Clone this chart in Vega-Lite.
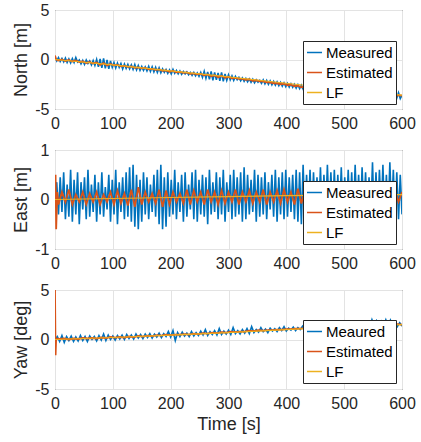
{
"$schema":"https://vega.github.io/schema/vega-lite/v6.json",
"autosize":{"type":"pad"},
"padding":{"left":12,"top":1,"right":2,"bottom":2},
"background":"white",
"spacing":41,
"bounds":"flush",
"resolve":{"scale":{"color":"independent"}},
"config":{
 "view":{"stroke":"#262626","strokeWidth":1},
 "axis":{"labelFont":"Liberation Sans","labelFontSize":16,"labelColor":"#262626","titleFont":"Liberation Sans","titleFontSize":18,"titleFontWeight":"normal","titleColor":"#262626","grid":true,"gridColor":"#E3E3E3","gridWidth":1,"domain":false,"ticks":false,"labelPadding":6,"labelFlush":false,"labelOverlap":false,"titlePadding":4},
 "legend":{"title":null,"orient":"none","symbolType":"stroke","symbolSize":225,"symbolStrokeWidth":1.5,"labelFont":"Liberation Sans","labelFontSize":15,"labelColor":"#000000","fillColor":"white","strokeColor":"#262626","padding":3,"rowPadding":3,"labelOffset":3}
},
"datasets":{
"nm":[{"t":0,"v":0.25},{"t":3,"v":-0.15},{"t":6,"v":0.2},{"t":9,"v":-0.2},{"t":12,"v":0.1},{"t":15,"v":-0.25},{"t":18,"v":0.15},{"t":21,"v":-0.3},{"t":24,"v":0.05},{"t":27,"v":-0.35},{"t":30,"v":0.1},{"t":33,"v":-0.3},{"t":36,"v":0.2},{"t":39,"v":-0.25},{"t":42,"v":-0.05},{"t":45,"v":-0.45},{"t":48,"v":-0.1},{"t":51,"v":-0.5},{"t":54,"v":-0.05},{"t":57,"v":-0.4},{"t":60,"v":-0.15},{"t":63,"v":-0.55},{"t":66,"v":-0.1},{"t":69,"v":-0.6},{"t":72,"v":0.0},{"t":75,"v":-0.75},{"t":78,"v":0.05},{"t":81,"v":-0.85},{"t":84,"v":0.1},{"t":87,"v":-0.9},{"t":90,"v":-0.05},{"t":93,"v":-0.95},{"t":96,"v":-0.15},{"t":99,"v":-0.8},{"t":102,"v":-0.3},{"t":105,"v":-0.85},{"t":108,"v":-0.35},{"t":111,"v":-0.8},{"t":114,"v":-0.4},{"t":117,"v":-0.95},{"t":120,"v":-0.45},{"t":123,"v":-0.9},{"t":126,"v":-0.5},{"t":129,"v":-0.95},{"t":132,"v":-0.55},{"t":135,"v":-1.0},{"t":138,"v":-0.5},{"t":141,"v":-1.05},{"t":144,"v":-0.6},{"t":147,"v":-1.1},{"t":150,"v":-0.7},{"t":153,"v":-1.1},{"t":156,"v":-0.75},{"t":159,"v":-1.15},{"t":162,"v":-0.7},{"t":165,"v":-1.2},{"t":168,"v":-0.75},{"t":171,"v":-1.25},{"t":174,"v":-0.8},{"t":177,"v":-1.3},{"t":180,"v":-0.85},{"t":183,"v":-1.35},{"t":186,"v":-0.95},{"t":189,"v":-1.3},{"t":192,"v":-1.0},{"t":195,"v":-1.4},{"t":198,"v":-1.05},{"t":201,"v":-1.45},{"t":204,"v":-1.0},{"t":207,"v":-1.4},{"t":210,"v":-1.1},{"t":213,"v":-1.45},{"t":216,"v":-1.15},{"t":219,"v":-1.5},{"t":222,"v":-1.2},{"t":225,"v":-1.45},{"t":228,"v":-1.25},{"t":231,"v":-1.55},{"t":234,"v":-1.3},{"t":237,"v":-1.6},{"t":240,"v":-1.3},{"t":243,"v":-1.65},{"t":246,"v":-1.35},{"t":249,"v":-1.7},{"t":252,"v":-1.3},{"t":255,"v":-1.8},{"t":258,"v":-1.2},{"t":261,"v":-1.9},{"t":264,"v":-1.25},{"t":267,"v":-2.0},{"t":270,"v":-1.2},{"t":273,"v":-2.1},{"t":276,"v":-1.3},{"t":279,"v":-2.05},{"t":282,"v":-1.35},{"t":285,"v":-2.15},{"t":288,"v":-1.3},{"t":291,"v":-2.2},{"t":294,"v":-1.45},{"t":297,"v":-2.1},{"t":300,"v":-1.55},{"t":303,"v":-2.05},{"t":306,"v":-1.65},{"t":309,"v":-2.1},{"t":312,"v":-1.7},{"t":315,"v":-2.05},{"t":318,"v":-1.8},{"t":321,"v":-2.15},{"t":324,"v":-1.85},{"t":327,"v":-2.2},{"t":330,"v":-1.9},{"t":333,"v":-2.25},{"t":336,"v":-1.95},{"t":339,"v":-2.3},{"t":342,"v":-2.0},{"t":345,"v":-2.35},{"t":348,"v":-2.05},{"t":351,"v":-2.3},{"t":354,"v":-2.1},{"t":357,"v":-2.4},{"t":360,"v":-2.05},{"t":363,"v":-2.45},{"t":366,"v":-2.1},{"t":369,"v":-2.5},{"t":372,"v":-2.15},{"t":375,"v":-2.55},{"t":378,"v":-2.2},{"t":381,"v":-2.6},{"t":384,"v":-2.25},{"t":387,"v":-2.65},{"t":390,"v":-2.3},{"t":393,"v":-2.7},{"t":396,"v":-2.35},{"t":399,"v":-2.75},{"t":402,"v":-2.4},{"t":405,"v":-2.8},{"t":408,"v":-2.45},{"t":411,"v":-2.8},{"t":414,"v":-2.5},{"t":417,"v":-2.9},{"t":420,"v":-2.55},{"t":423,"v":-2.95},{"t":426,"v":-2.6},{"t":429,"v":-3.0},{"t":432,"v":-2.65},{"t":435,"v":-3.05},{"t":438,"v":-2.7},{"t":441,"v":-3.1},{"t":444,"v":-2.75},{"t":447,"v":-3.1},{"t":450,"v":-2.8},{"t":453,"v":-3.15},{"t":456,"v":-2.85},{"t":459,"v":-3.2},{"t":462,"v":-2.85},{"t":465,"v":-3.25},{"t":468,"v":-2.9},{"t":471,"v":-3.3},{"t":474,"v":-2.95},{"t":477,"v":-3.3},{"t":480,"v":-3.0},{"t":483,"v":-3.35},{"t":486,"v":-3.0},{"t":489,"v":-3.4},{"t":492,"v":-3.05},{"t":495,"v":-3.4},{"t":498,"v":-3.1},{"t":501,"v":-3.45},{"t":504,"v":-3.1},{"t":507,"v":-3.5},{"t":510,"v":-3.15},{"t":513,"v":-3.5},{"t":516,"v":-3.2},{"t":519,"v":-3.55},{"t":522,"v":-3.2},{"t":525,"v":-3.6},{"t":528,"v":-3.25},{"t":531,"v":-3.6},{"t":534,"v":-3.3},{"t":537,"v":-3.65},{"t":540,"v":-3.3},{"t":543,"v":-3.7},{"t":546,"v":-3.35},{"t":549,"v":-3.7},{"t":552,"v":-3.4},{"t":555,"v":-3.75},{"t":558,"v":-3.4},{"t":561,"v":-3.8},{"t":564,"v":-3.45},{"t":567,"v":-3.8},{"t":570,"v":-3.4},{"t":573,"v":-3.85},{"t":576,"v":-3.45},{"t":579,"v":-3.8},{"t":582,"v":-3.35},{"t":585,"v":-3.85},{"t":588,"v":-3.3},{"t":591,"v":-3.9},{"t":594,"v":-3.35},{"t":597,"v":-3.95},{"t":600,"v":-3.6}],
"ne":[{"t":0,"v":0.4},{"t":2,"v":0.0},{"t":6,"v":-0.1},{"t":12,"v":0.0},{"t":18,"v":-0.15},{"t":24,"v":-0.05},{"t":30,"v":-0.2},{"t":36,"v":-0.1},{"t":42,"v":-0.25},{"t":48,"v":-0.2},{"t":54,"v":-0.35},{"t":60,"v":-0.25},{"t":66,"v":-0.4},{"t":72,"v":-0.3},{"t":78,"v":-0.55},{"t":84,"v":-0.35},{"t":90,"v":-0.6},{"t":96,"v":-0.45},{"t":102,"v":-0.6},{"t":108,"v":-0.55},{"t":114,"v":-0.7},{"t":120,"v":-0.65},{"t":126,"v":-0.75},{"t":132,"v":-0.7},{"t":138,"v":-0.85},{"t":144,"v":-0.8},{"t":150,"v":-0.9},{"t":156,"v":-0.85},{"t":162,"v":-1.0},{"t":168,"v":-0.95},{"t":174,"v":-1.05},{"t":180,"v":-1.0},{"t":186,"v":-1.15},{"t":192,"v":-1.1},{"t":198,"v":-1.25},{"t":204,"v":-1.15},{"t":210,"v":-1.3},{"t":216,"v":-1.25},{"t":222,"v":-1.35},{"t":228,"v":-1.3},{"t":234,"v":-1.45},{"t":240,"v":-1.4},{"t":246,"v":-1.5},{"t":252,"v":-1.45},{"t":258,"v":-1.6},{"t":264,"v":-1.5},{"t":270,"v":-1.7},{"t":276,"v":-1.6},{"t":282,"v":-1.8},{"t":288,"v":-1.65},{"t":294,"v":-1.85},{"t":300,"v":-1.75},{"t":306,"v":-1.9},{"t":312,"v":-1.85},{"t":318,"v":-1.95},{"t":324,"v":-1.95},{"t":330,"v":-2.05},{"t":336,"v":-2.0},{"t":342,"v":-2.15},{"t":348,"v":-2.1},{"t":354,"v":-2.2},{"t":360,"v":-2.2},{"t":366,"v":-2.3},{"t":372,"v":-2.3},{"t":378,"v":-2.4},{"t":384,"v":-2.4},{"t":390,"v":-2.5},{"t":396,"v":-2.45},{"t":402,"v":-2.6},{"t":408,"v":-2.55},{"t":414,"v":-2.7},{"t":420,"v":-2.65},{"t":426,"v":-2.8},{"t":432,"v":-2.75},{"t":438,"v":-2.9},{"t":444,"v":-2.85},{"t":450,"v":-2.95},{"t":456,"v":-2.95},{"t":462,"v":-3.05},{"t":468,"v":-3.05},{"t":474,"v":-3.15},{"t":480,"v":-3.1},{"t":486,"v":-3.2},{"t":492,"v":-3.2},{"t":498,"v":-3.3},{"t":504,"v":-3.3},{"t":510,"v":-3.35},{"t":516,"v":-3.35},{"t":522,"v":-3.4},{"t":528,"v":-3.45},{"t":534,"v":-3.5},{"t":540,"v":-3.5},{"t":546,"v":-3.55},{"t":552,"v":-3.55},{"t":558,"v":-3.6},{"t":564,"v":-3.6},{"t":570,"v":-3.6},{"t":576,"v":-3.65},{"t":582,"v":-3.6},{"t":588,"v":-3.65},{"t":594,"v":-3.6},{"t":600,"v":-3.65}],
"nl":[{"t":0,"v":0.0},{"t":100,"v":-0.55},{"t":200,"v":-1.15},{"t":300,"v":-1.75},{"t":400,"v":-2.4},{"t":500,"v":-3.05},{"t":600,"v":-3.6}],
"em":[{"t":0,"v":0.0},{"t":3,"v":0.35},{"t":6,"v":-0.3},{"t":9,"v":0.45},{"t":12,"v":-0.25},{"t":15,"v":0.55},{"t":18,"v":-0.4},{"t":21,"v":0.3},{"t":24,"v":-0.35},{"t":27,"v":0.6},{"t":30,"v":-0.45},{"t":33,"v":0.4},{"t":36,"v":-0.3},{"t":39,"v":0.55},{"t":42,"v":-0.5},{"t":45,"v":0.35},{"t":48,"v":-0.2},{"t":51,"v":0.45},{"t":54,"v":-0.4},{"t":57,"v":0.6},{"t":60,"v":-0.35},{"t":63,"v":0.3},{"t":66,"v":-0.25},{"t":69,"v":0.5},{"t":72,"v":-0.45},{"t":75,"v":0.35},{"t":78,"v":-0.3},{"t":81,"v":0.55},{"t":84,"v":-0.35},{"t":87,"v":0.25},{"t":90,"v":-0.2},{"t":93,"v":0.5},{"t":96,"v":-0.45},{"t":99,"v":0.4},{"t":102,"v":-0.3},{"t":105,"v":0.6},{"t":108,"v":-0.5},{"t":111,"v":0.35},{"t":114,"v":-0.25},{"t":117,"v":0.45},{"t":120,"v":-0.4},{"t":123,"v":0.55},{"t":126,"v":-0.35},{"t":129,"v":0.65},{"t":132,"v":-0.45},{"t":135,"v":0.7},{"t":138,"v":-0.55},{"t":141,"v":0.5},{"t":144,"v":-0.6},{"t":147,"v":0.4},{"t":150,"v":-0.45},{"t":153,"v":0.55},{"t":156,"v":-0.3},{"t":159,"v":0.45},{"t":162,"v":-0.4},{"t":165,"v":0.3},{"t":168,"v":-0.25},{"t":171,"v":0.5},{"t":174,"v":-0.35},{"t":177,"v":0.6},{"t":180,"v":-0.5},{"t":183,"v":0.7},{"t":186,"v":-0.6},{"t":189,"v":0.45},{"t":192,"v":-0.55},{"t":195,"v":0.55},{"t":198,"v":-0.35},{"t":201,"v":0.4},{"t":204,"v":-0.3},{"t":207,"v":0.6},{"t":210,"v":-0.4},{"t":213,"v":0.35},{"t":216,"v":-0.25},{"t":219,"v":0.5},{"t":222,"v":-0.45},{"t":225,"v":0.55},{"t":228,"v":-0.35},{"t":231,"v":0.3},{"t":234,"v":-0.2},{"t":237,"v":0.55},{"t":240,"v":-0.4},{"t":243,"v":0.6},{"t":246,"v":-0.45},{"t":249,"v":0.4},{"t":252,"v":-0.3},{"t":255,"v":0.5},{"t":258,"v":-0.35},{"t":261,"v":0.45},{"t":264,"v":-0.5},{"t":267,"v":0.6},{"t":270,"v":-0.3},{"t":273,"v":0.35},{"t":276,"v":-0.25},{"t":279,"v":0.55},{"t":282,"v":-0.4},{"t":285,"v":0.45},{"t":288,"v":-0.3},{"t":291,"v":0.6},{"t":294,"v":-0.45},{"t":297,"v":0.35},{"t":300,"v":-0.25},{"t":303,"v":0.5},{"t":306,"v":-0.4},{"t":309,"v":0.6},{"t":312,"v":-0.35},{"t":315,"v":0.45},{"t":318,"v":-0.3},{"t":321,"v":0.55},{"t":324,"v":-0.45},{"t":327,"v":0.65},{"t":330,"v":-0.4},{"t":333,"v":0.5},{"t":336,"v":-0.3},{"t":339,"v":0.4},{"t":342,"v":-0.25},{"t":345,"v":0.6},{"t":348,"v":-0.45},{"t":351,"v":0.5},{"t":354,"v":-0.35},{"t":357,"v":0.45},{"t":360,"v":-0.3},{"t":363,"v":0.55},{"t":366,"v":-0.4},{"t":369,"v":0.35},{"t":372,"v":-0.2},{"t":375,"v":0.5},{"t":378,"v":-0.35},{"t":381,"v":0.6},{"t":384,"v":-0.45},{"t":387,"v":0.45},{"t":390,"v":-0.3},{"t":393,"v":0.55},{"t":396,"v":-0.4},{"t":399,"v":0.6},{"t":402,"v":-0.35},{"t":405,"v":0.45},{"t":408,"v":-0.25},{"t":411,"v":0.5},{"t":414,"v":-0.4},{"t":417,"v":0.6},{"t":420,"v":-0.45},{"t":423,"v":0.55},{"t":426,"v":-0.5},{"t":429,"v":0.7},{"t":432,"v":-0.35},{"t":435,"v":0.5},{"t":438,"v":-0.3},{"t":441,"v":0.6},{"t":444,"v":-0.4},{"t":447,"v":0.55},{"t":450,"v":-0.35},{"t":453,"v":0.45},{"t":456,"v":-0.3},{"t":459,"v":0.65},{"t":462,"v":-0.4},{"t":465,"v":0.5},{"t":468,"v":-0.3},{"t":471,"v":0.7},{"t":474,"v":-0.35},{"t":477,"v":0.55},{"t":480,"v":-0.3},{"t":483,"v":0.6},{"t":486,"v":-0.4},{"t":489,"v":0.5},{"t":492,"v":-0.3},{"t":495,"v":0.65},{"t":498,"v":-0.35},{"t":501,"v":0.45},{"t":504,"v":-0.3},{"t":507,"v":0.6},{"t":510,"v":-0.4},{"t":513,"v":0.55},{"t":516,"v":-0.35},{"t":519,"v":0.7},{"t":522,"v":-0.3},{"t":525,"v":0.5},{"t":528,"v":-0.4},{"t":531,"v":0.65},{"t":534,"v":-0.3},{"t":537,"v":0.55},{"t":540,"v":-0.35},{"t":543,"v":0.45},{"t":546,"v":-0.3},{"t":549,"v":0.75},{"t":552,"v":-0.4},{"t":555,"v":0.55},{"t":558,"v":-0.35},{"t":561,"v":0.6},{"t":564,"v":-0.3},{"t":567,"v":0.7},{"t":570,"v":-0.4},{"t":573,"v":0.5},{"t":576,"v":-0.35},{"t":579,"v":0.75},{"t":582,"v":-0.3},{"t":585,"v":0.6},{"t":588,"v":-0.35},{"t":591,"v":0.55},{"t":594,"v":-0.4},{"t":597,"v":0.5},{"t":600,"v":-0.3}],
"ee":[{"t":0,"v":0.0},{"t":1,"v":0.5},{"t":2,"v":-0.6},{"t":4,"v":0.15},{"t":6,"v":-0.1},{"t":12,"v":0.15},{"t":18,"v":-0.05},{"t":24,"v":0.2},{"t":30,"v":-0.1},{"t":36,"v":0.1},{"t":42,"v":-0.05},{"t":48,"v":0.15},{"t":54,"v":-0.1},{"t":60,"v":0.12},{"t":66,"v":-0.05},{"t":72,"v":0.15},{"t":78,"v":-0.1},{"t":84,"v":0.1},{"t":90,"v":-0.05},{"t":96,"v":0.15},{"t":102,"v":-0.1},{"t":108,"v":0.18},{"t":114,"v":-0.08},{"t":120,"v":0.12},{"t":126,"v":-0.12},{"t":132,"v":0.2},{"t":138,"v":-0.15},{"t":144,"v":0.25},{"t":150,"v":-0.1},{"t":156,"v":0.15},{"t":162,"v":-0.05},{"t":168,"v":0.12},{"t":174,"v":-0.08},{"t":180,"v":0.2},{"t":186,"v":-0.15},{"t":192,"v":0.18},{"t":198,"v":-0.1},{"t":204,"v":0.15},{"t":210,"v":-0.05},{"t":216,"v":0.12},{"t":222,"v":-0.08},{"t":228,"v":0.2},{"t":234,"v":-0.1},{"t":240,"v":0.18},{"t":246,"v":-0.05},{"t":252,"v":0.15},{"t":258,"v":-0.1},{"t":264,"v":0.2},{"t":270,"v":-0.05},{"t":276,"v":0.15},{"t":282,"v":-0.1},{"t":288,"v":0.18},{"t":294,"v":-0.08},{"t":300,"v":0.15},{"t":306,"v":-0.05},{"t":312,"v":0.2},{"t":318,"v":-0.1},{"t":324,"v":0.15},{"t":330,"v":-0.05},{"t":336,"v":0.18},{"t":342,"v":-0.08},{"t":348,"v":0.15},{"t":354,"v":-0.05},{"t":360,"v":0.2},{"t":366,"v":-0.1},{"t":372,"v":0.15},{"t":378,"v":-0.05},{"t":384,"v":0.18},{"t":390,"v":-0.08},{"t":396,"v":0.2},{"t":402,"v":-0.05},{"t":408,"v":0.15},{"t":414,"v":-0.1},{"t":420,"v":0.22},{"t":426,"v":-0.08},{"t":432,"v":0.18},{"t":438,"v":-0.05},{"t":444,"v":0.2},{"t":450,"v":-0.05},{"t":456,"v":0.18},{"t":462,"v":-0.08},{"t":468,"v":0.2},{"t":474,"v":-0.05},{"t":480,"v":0.15},{"t":486,"v":-0.05},{"t":492,"v":0.2},{"t":498,"v":-0.08},{"t":504,"v":0.18},{"t":510,"v":-0.05},{"t":516,"v":0.15},{"t":522,"v":-0.05},{"t":528,"v":0.2},{"t":534,"v":-0.08},{"t":540,"v":0.18},{"t":546,"v":-0.05},{"t":552,"v":0.2},{"t":558,"v":-0.05},{"t":564,"v":0.15},{"t":570,"v":-0.05},{"t":576,"v":0.2},{"t":582,"v":-0.08},{"t":588,"v":0.18},{"t":594,"v":-0.05},{"t":600,"v":0.15}],
"el":[{"t":0,"v":0.0},{"t":100,"v":0.02},{"t":200,"v":0.04},{"t":300,"v":0.06},{"t":400,"v":0.08},{"t":600,"v":0.1}],
"ym":[{"t":0,"v":0.0},{"t":4,"v":0.3},{"t":8,"v":-0.2},{"t":12,"v":0.4},{"t":16,"v":-0.3},{"t":20,"v":0.3},{"t":24,"v":-0.1},{"t":28,"v":0.35},{"t":32,"v":-0.2},{"t":36,"v":0.25},{"t":40,"v":-0.15},{"t":44,"v":0.4},{"t":48,"v":-0.1},{"t":52,"v":0.3},{"t":56,"v":-0.2},{"t":60,"v":0.35},{"t":64,"v":0.0},{"t":68,"v":0.3},{"t":72,"v":-0.15},{"t":76,"v":0.4},{"t":80,"v":-0.05},{"t":84,"v":0.55},{"t":88,"v":-0.1},{"t":92,"v":0.45},{"t":96,"v":0.0},{"t":100,"v":0.35},{"t":104,"v":-0.05},{"t":108,"v":0.4},{"t":112,"v":0.05},{"t":116,"v":0.45},{"t":120,"v":0.0},{"t":124,"v":0.5},{"t":128,"v":0.1},{"t":132,"v":0.45},{"t":136,"v":0.05},{"t":140,"v":0.55},{"t":144,"v":0.15},{"t":148,"v":0.5},{"t":152,"v":0.1},{"t":156,"v":0.55},{"t":160,"v":0.2},{"t":164,"v":0.6},{"t":168,"v":0.15},{"t":172,"v":0.55},{"t":176,"v":0.25},{"t":180,"v":0.65},{"t":184,"v":0.2},{"t":188,"v":0.6},{"t":192,"v":0.3},{"t":196,"v":0.8},{"t":200,"v":0.25},{"t":204,"v":0.9},{"t":208,"v":-0.1},{"t":212,"v":0.7},{"t":216,"v":0.3},{"t":220,"v":0.75},{"t":224,"v":0.35},{"t":228,"v":0.65},{"t":232,"v":0.3},{"t":236,"v":0.8},{"t":240,"v":0.35},{"t":244,"v":0.7},{"t":248,"v":0.4},{"t":252,"v":0.85},{"t":256,"v":0.45},{"t":260,"v":1.0},{"t":264,"v":0.4},{"t":268,"v":0.8},{"t":272,"v":0.5},{"t":276,"v":0.9},{"t":280,"v":0.45},{"t":284,"v":1.1},{"t":288,"v":0.5},{"t":292,"v":0.85},{"t":296,"v":0.55},{"t":300,"v":0.95},{"t":304,"v":0.5},{"t":308,"v":1.2},{"t":312,"v":0.6},{"t":316,"v":0.9},{"t":320,"v":0.55},{"t":324,"v":1.0},{"t":328,"v":0.65},{"t":332,"v":1.1},{"t":336,"v":0.6},{"t":340,"v":1.3},{"t":344,"v":0.7},{"t":348,"v":1.0},{"t":352,"v":0.75},{"t":356,"v":1.2},{"t":360,"v":0.8},{"t":364,"v":1.05},{"t":368,"v":0.7},{"t":372,"v":1.15},{"t":376,"v":0.85},{"t":380,"v":1.1},{"t":384,"v":0.8},{"t":388,"v":1.2},{"t":392,"v":0.9},{"t":396,"v":1.3},{"t":400,"v":0.85},{"t":404,"v":1.15},{"t":408,"v":0.95},{"t":412,"v":1.25},{"t":416,"v":0.9},{"t":420,"v":1.2},{"t":424,"v":1.0},{"t":428,"v":1.35},{"t":432,"v":0.95},{"t":436,"v":1.3},{"t":440,"v":1.0},{"t":444,"v":1.4},{"t":448,"v":1.05},{"t":452,"v":1.35},{"t":456,"v":1.1},{"t":460,"v":1.45},{"t":464,"v":1.05},{"t":468,"v":1.4},{"t":472,"v":1.15},{"t":476,"v":1.5},{"t":480,"v":1.1},{"t":484,"v":1.45},{"t":488,"v":1.2},{"t":492,"v":1.55},{"t":496,"v":1.15},{"t":500,"v":1.5},{"t":504,"v":1.25},{"t":508,"v":1.6},{"t":512,"v":1.2},{"t":516,"v":1.55},{"t":520,"v":1.3},{"t":524,"v":1.65},{"t":528,"v":1.25},{"t":532,"v":1.6},{"t":536,"v":1.35},{"t":540,"v":1.7},{"t":544,"v":1.3},{"t":548,"v":2.0},{"t":552,"v":1.4},{"t":556,"v":1.9},{"t":560,"v":1.35},{"t":564,"v":1.85},{"t":568,"v":1.4},{"t":572,"v":2.0},{"t":576,"v":1.35},{"t":580,"v":1.95},{"t":584,"v":1.4},{"t":588,"v":1.8},{"t":592,"v":1.3},{"t":596,"v":1.7},{"t":600,"v":1.35}],
"ye":[{"t":0,"v":5.0},{"t":1,"v":-1.6},{"t":2,"v":0.1},{"t":8,"v":0.05},{"t":16,"v":0.1},{"t":24,"v":0.0},{"t":32,"v":0.1},{"t":40,"v":0.05},{"t":48,"v":0.15},{"t":56,"v":0.1},{"t":64,"v":0.15},{"t":72,"v":0.1},{"t":80,"v":0.2},{"t":88,"v":0.15},{"t":96,"v":0.25},{"t":104,"v":0.2},{"t":112,"v":0.25},{"t":120,"v":0.2},{"t":128,"v":0.3},{"t":136,"v":0.25},{"t":144,"v":0.35},{"t":152,"v":0.3},{"t":160,"v":0.4},{"t":168,"v":0.35},{"t":176,"v":0.45},{"t":184,"v":0.4},{"t":192,"v":0.5},{"t":200,"v":0.45},{"t":208,"v":0.5},{"t":216,"v":0.5},{"t":224,"v":0.55},{"t":232,"v":0.5},{"t":240,"v":0.6},{"t":248,"v":0.55},{"t":256,"v":0.65},{"t":264,"v":0.6},{"t":272,"v":0.7},{"t":280,"v":0.65},{"t":288,"v":0.75},{"t":296,"v":0.7},{"t":304,"v":0.8},{"t":312,"v":0.75},{"t":320,"v":0.8},{"t":328,"v":0.8},{"t":336,"v":0.9},{"t":344,"v":0.85},{"t":352,"v":0.95},{"t":360,"v":0.9},{"t":368,"v":0.95},{"t":376,"v":0.95},{"t":384,"v":1.0},{"t":392,"v":1.0},{"t":400,"v":1.05},{"t":408,"v":1.05},{"t":416,"v":1.1},{"t":424,"v":1.1},{"t":432,"v":1.15},{"t":440,"v":1.15},{"t":448,"v":1.2},{"t":456,"v":1.2},{"t":464,"v":1.25},{"t":472,"v":1.25},{"t":480,"v":1.3},{"t":488,"v":1.3},{"t":496,"v":1.35},{"t":504,"v":1.35},{"t":512,"v":1.4},{"t":520,"v":1.4},{"t":528,"v":1.45},{"t":536,"v":1.45},{"t":544,"v":1.5},{"t":552,"v":1.55},{"t":560,"v":1.55},{"t":568,"v":1.6},{"t":576,"v":1.6},{"t":584,"v":1.6},{"t":592,"v":1.55},{"t":600,"v":1.5}],
"yl":[{"t":0,"v":0.0},{"t":100,"v":0.2},{"t":200,"v":0.45},{"t":300,"v":0.7},{"t":400,"v":1.0},{"t":500,"v":1.3},{"t":600,"v":1.5}]
},
"vconcat":[
{"width":347,"height":99,
 "layer":[
  {"data":{"name":"nm"},"mark":{"type":"line","strokeWidth":1.6,"clip":true},
   "encoding":{"x":{"field":"t","type":"quantitative","scale":{"domain":[0,600],"nice":false},"axis":{"values":[0,100,200,300,400,500,600],"title":null}},
    "y":{"field":"v","type":"quantitative","scale":{"domain":[-5,5],"nice":false},"axis":{"values":[-5,0,5],"title":"North [m]","labelExpr":"'' + datum.value"}},
    "color":{"datum":"Measured","type":"nominal","scale":{"domain":["Measured","Estimated","LF"],"range":["#0072BD","#D95319","#EDB120"]},"legend":{"legendX":248,"legendY":31}}}},
  {"data":{"name":"ne"},"mark":{"type":"line","strokeWidth":1.8,"clip":true},
   "encoding":{"x":{"field":"t","type":"quantitative"},"y":{"field":"v","type":"quantitative"},"color":{"datum":"Estimated","type":"nominal"}}},
  {"data":{"name":"nl"},"mark":{"type":"line","strokeWidth":1.2,"clip":true},
   "encoding":{"x":{"field":"t","type":"quantitative"},"y":{"field":"v","type":"quantitative"},"color":{"datum":"LF","type":"nominal"}}}
 ]},
{"width":347,"height":99,
 "layer":[
  {"data":{"name":"em"},"mark":{"type":"line","strokeWidth":1.6,"clip":true},
   "encoding":{"x":{"field":"t","type":"quantitative","scale":{"domain":[0,600],"nice":false},"axis":{"values":[0,100,200,300,400,500,600],"title":null}},
    "y":{"field":"v","type":"quantitative","scale":{"domain":[-1,1],"nice":false},"axis":{"values":[-1,0,1],"title":"East [m]","labelExpr":"'' + datum.value"}},
    "color":{"datum":"Measured","type":"nominal","scale":{"domain":["Measured","Estimated","LF"],"range":["#0072BD","#D95319","#EDB120"]},"legend":{"legendX":248,"legendY":31}}}},
  {"data":{"name":"ee"},"mark":{"type":"line","strokeWidth":1.8,"clip":true},
   "encoding":{"x":{"field":"t","type":"quantitative"},"y":{"field":"v","type":"quantitative"},"color":{"datum":"Estimated","type":"nominal"}}},
  {"data":{"name":"el"},"mark":{"type":"line","strokeWidth":1.2,"clip":true},
   "encoding":{"x":{"field":"t","type":"quantitative"},"y":{"field":"v","type":"quantitative"},"color":{"datum":"LF","type":"nominal"}}}
 ]},
{"width":347,"height":99,
 "layer":[
  {"data":{"name":"ym"},"mark":{"type":"line","strokeWidth":1.6,"clip":true},
   "encoding":{"x":{"field":"t","type":"quantitative","scale":{"domain":[0,600],"nice":false},"axis":{"values":[0,100,200,300,400,500,600],"title":"Time [s]"}},
    "y":{"field":"v","type":"quantitative","scale":{"domain":[-5,5],"nice":false},"axis":{"values":[-5,0,5],"title":"Yaw [deg]","labelExpr":"'' + datum.value"}},
    "color":{"datum":"Meaured","type":"nominal","scale":{"domain":["Meaured","Estimated","LF"],"range":["#0072BD","#D95319","#EDB120"]},"legend":{"legendX":248,"legendY":30}}}},
  {"data":{"name":"ye"},"mark":{"type":"line","strokeWidth":1.8,"clip":true},
   "encoding":{"x":{"field":"t","type":"quantitative"},"y":{"field":"v","type":"quantitative"},"color":{"datum":"Estimated","type":"nominal"}}},
  {"data":{"name":"yl"},"mark":{"type":"line","strokeWidth":1.2,"clip":true},
   "encoding":{"x":{"field":"t","type":"quantitative"},"y":{"field":"v","type":"quantitative"},"color":{"datum":"LF","type":"nominal"}}}
 ]}
]
}
